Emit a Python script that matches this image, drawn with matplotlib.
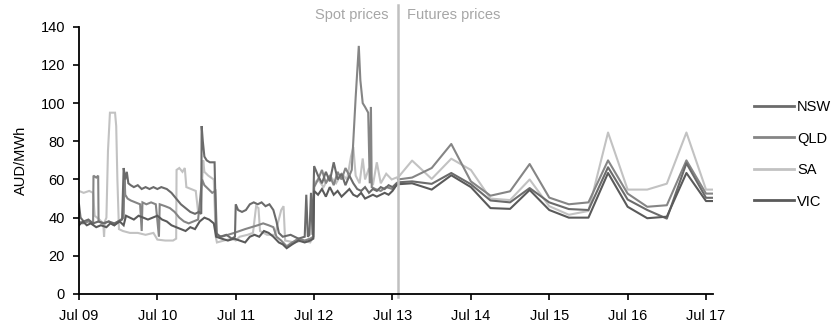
import matplotlib
matplotlib.use("Agg")
import matplotlib.pyplot as plt
import matplotlib.transforms as mtransforms

plt.rcParams['font.family'] = ['Liberation Sans', 'DejaVu Sans']

# ---- spot prices (decimal years, AUD/MWh) ----
nsw_spot_t = [2009.50, 2009.52, 2009.56, 2009.62, 2009.68, 2009.75, 2009.82, 2009.88, 2009.95, 2010.05,
              2010.07, 2010.09, 2010.11, 2010.13, 2010.16, 2010.20, 2010.25, 2010.30, 2010.35, 2010.40,
              2010.45, 2010.50, 2010.55, 2010.62, 2010.68, 2010.74, 2010.80, 2010.86, 2010.92, 2010.98,
              2011.03, 2011.06, 2011.065, 2011.08, 2011.10, 2011.13, 2011.17, 2011.23, 2011.25, 2011.30,
              2011.38, 2011.45, 2011.49, 2011.50, 2011.53, 2011.58, 2011.63, 2011.68, 2011.73, 2011.78,
              2011.83, 2011.88, 2011.93, 2011.98, 2012.02, 2012.05, 2012.10, 2012.20, 2012.30, 2012.38,
              2012.40, 2012.42, 2012.44, 2012.46, 2012.48, 2012.50, 2012.55, 2012.60, 2012.65, 2012.70,
              2012.75, 2012.80, 2012.85, 2012.90, 2012.95, 2013.00, 2013.05, 2013.10, 2013.15, 2013.20,
              2013.25, 2013.30, 2013.35, 2013.40, 2013.45, 2013.50, 2013.55]
nsw_spot_v = [47, 40, 38, 39, 37, 38, 37, 38, 37, 39,
              66, 60, 64, 58, 57, 56, 57, 55, 56, 55,
              56, 55, 56, 55, 53, 50, 47, 45, 43, 42,
              43, 42, 88, 80, 72, 70, 69, 69, 32, 30,
              31, 29, 30, 47, 44, 43, 44, 47, 48, 47,
              48, 46, 47, 44, 38, 32, 30, 31, 29, 30,
              52, 30, 31, 53, 31, 67, 62, 58, 64, 59,
              69, 60, 63, 57, 62, 58, 55, 54, 56, 53,
              55, 54, 56, 55, 57, 56, 58]

qld_spot_t = [2009.50, 2009.55, 2009.62, 2009.68, 2009.685, 2009.72, 2009.745, 2009.75, 2009.80, 2009.88,
              2009.95, 2010.00, 2010.07, 2010.08, 2010.09, 2010.12, 2010.16, 2010.22, 2010.28, 2010.30,
              2010.31, 2010.36, 2010.42, 2010.48, 2010.52, 2010.53, 2010.60, 2010.66, 2010.72, 2010.78,
              2010.84, 2010.90, 2010.96, 2011.02, 2011.07, 2011.10, 2011.15, 2011.20, 2011.24, 2011.26,
              2011.32, 2011.40, 2011.48, 2011.55, 2011.62, 2011.70, 2011.78, 2011.85, 2011.92, 2011.98,
              2012.02, 2012.08, 2012.15, 2012.22, 2012.30, 2012.38, 2012.45, 2012.49, 2012.50, 2012.55,
              2012.60, 2012.65, 2012.70, 2012.75, 2012.80, 2012.85, 2012.90, 2012.95, 2012.98, 2013.03,
              2013.07, 2013.09, 2013.12, 2013.15, 2013.19, 2013.21, 2013.225, 2013.235, 2013.28, 2013.35,
              2013.42, 2013.50, 2013.55]
qld_spot_v = [38, 37, 38, 37, 62, 61, 62, 38, 37, 38,
              36, 38, 40, 63, 52, 50, 49, 48, 47, 33,
              48, 47, 48, 47, 30, 47, 46, 45, 43, 40,
              38, 37, 38, 39, 60, 57, 55, 53, 54, 31,
              30, 31, 32, 33, 34, 35, 36, 37, 36, 35,
              30, 28, 25, 27, 29, 28, 29, 30, 56, 60,
              65, 58, 62, 57, 64, 60, 66, 62, 65, 103,
              130, 112, 100, 98, 95, 58, 98, 56, 55, 54,
              56, 55, 57]

sa_spot_t = [2009.50, 2009.56, 2009.63, 2009.68, 2009.70, 2009.76, 2009.81, 2009.82, 2009.83, 2009.85,
             2009.87, 2009.895, 2009.96, 2009.975, 2009.99, 2010.01, 2010.06, 2010.15, 2010.25, 2010.35,
             2010.45, 2010.50, 2010.60, 2010.70, 2010.74, 2010.745, 2010.78, 2010.82, 2010.85, 2010.87,
             2010.93, 2010.99, 2011.02, 2011.05, 2011.085, 2011.10, 2011.15, 2011.22, 2011.245, 2011.26,
             2011.35, 2011.45, 2011.50, 2011.55, 2011.65, 2011.72, 2011.76, 2011.79, 2011.81, 2011.90,
             2012.00, 2012.08, 2012.11, 2012.13, 2012.25, 2012.35, 2012.45, 2012.49, 2012.50, 2012.55,
             2012.62, 2012.70, 2012.78, 2012.85, 2012.92, 2012.97, 2013.00, 2013.03, 2013.08, 2013.12,
             2013.15, 2013.20, 2013.25, 2013.30, 2013.35, 2013.42, 2013.49, 2013.55]
sa_spot_v = [54, 53, 54, 53, 41, 39, 37, 30, 38, 40,
             75, 95, 95, 88, 60, 34, 33, 32, 32, 31,
             32, 28.5, 28, 28, 29, 65, 66, 64, 66, 56,
             55, 54, 43, 42, 70, 64, 62, 60, 30, 27,
             28, 29, 28, 30, 31, 32, 46, 45, 33, 31,
             31, 44, 46, 28, 27, 28, 27, 30, 58, 60,
             56, 62, 58, 63, 60, 72, 77, 62, 58, 71,
             60, 66, 57, 69, 58, 63, 60, 61]

vic_spot_t = [2009.50, 2009.55, 2009.60, 2009.65, 2009.72, 2009.78, 2009.85, 2009.90, 2009.95, 2010.02,
              2010.07, 2010.10, 2010.15, 2010.20, 2010.26, 2010.32, 2010.38, 2010.44, 2010.50, 2010.56,
              2010.62, 2010.68, 2010.74, 2010.80, 2010.86, 2010.92, 2010.98, 2011.04, 2011.10, 2011.16,
              2011.22, 2011.25, 2011.32, 2011.40, 2011.48, 2011.55, 2011.62, 2011.68, 2011.74, 2011.80,
              2011.86, 2011.92, 2011.98, 2012.05, 2012.10, 2012.15, 2012.22, 2012.30, 2012.38, 2012.45,
              2012.49, 2012.50, 2012.55, 2012.60, 2012.65, 2012.70, 2012.75, 2012.80, 2012.85, 2012.90,
              2012.95, 2013.00, 2013.05, 2013.10, 2013.15, 2013.20, 2013.25, 2013.30, 2013.35, 2013.40,
              2013.45, 2013.50, 2013.55]
vic_spot_v = [36, 38, 36, 37, 35, 36, 35, 37, 36, 38,
              36, 41, 40, 39, 41, 40, 39, 40, 41, 39,
              38, 36, 35, 34, 33, 35, 34, 38, 40, 39,
              37, 30, 29, 28, 29, 28, 27, 30, 31, 30,
              33, 32, 30, 27, 26, 24, 26, 28, 27, 28,
              29, 54, 52, 55, 51, 56, 52, 54, 51, 53,
              55, 52, 51, 53, 50, 51, 52, 51, 52, 53,
              52, 54, 57]

# ---- futures prices (quarterly contracts) ----
fut_t = [2013.57, 2013.75, 2014.00, 2014.25, 2014.50, 2014.75, 2015.00, 2015.25, 2015.50,
         2015.75, 2016.00, 2016.25, 2016.50, 2016.75, 2017.00, 2017.25, 2017.50, 2017.60]
nsw_fut = [58.5, 59, 57.7, 63.4, 57.5, 49, 48, 55.5, 48, 44.5, 44, 66.4, 49.5, 44, 39.5, 68.5, 50.4, 50.4]
qld_fut = [60, 61, 66, 78.6, 59, 51.5, 53.8, 68.1, 50.5, 47, 48, 70, 52.6, 45.7, 46.5, 70, 52.6, 52.6]
sa_fut = [61, 69.9, 60.3, 70.9, 65, 50, 49.2, 60, 46, 41.5, 43.5, 84.6, 54.7, 54.7, 57.8, 84.6, 54.7, 54.7]
vic_fut = [57.5, 58, 54.7, 62.2, 56, 45, 44.6, 54.5, 44, 40, 40, 63.4, 45.7, 39.7, 40.5, 63.4, 48.7, 48.7]

states = ['NSW', 'QLD', 'SA', 'VIC']
colors = {'NSW': '#6b6b6b', 'QLD': '#858585', 'SA': '#c2c2c2', 'VIC': '#5a5a5a'}

year_ticks = [2009.5 + k for k in range(9)]
year_labels = ['Jul 09', 'Jul 10', 'Jul 11', 'Jul 12', 'Jul 13', 'Jul 14', 'Jul 15', 'Jul 16', 'Jul 17']
y_ticks = [0, 20, 40, 60, 80, 100, 120, 140]
split_t = 2013.57

spot = {
    'NSW': (nsw_spot_t, nsw_spot_v),
    'QLD': (qld_spot_t, qld_spot_v),
    'SA': (sa_spot_t, sa_spot_v),
    'VIC': (vic_spot_t, vic_spot_v),
}
futures = {'NSW': nsw_fut, 'QLD': qld_fut, 'SA': sa_fut, 'VIC': vic_fut}

fs = 10.5

fig = plt.figure(figsize=(8.34, 3.27), dpi=100)
ax = fig.add_axes([0.0947, 0.101, 0.7603, 0.817])

lw = 1.5
draw_order = ['SA', 'QLD', 'NSW', 'VIC']
for s in draw_order:
    t, v = spot[s]
    ax.plot(t, v, color=colors[s], lw=lw, solid_joinstyle='miter')
    ax.plot(fut_t, futures[s], color=colors[s], lw=lw)

# legend handles in state order
handles = [plt.Line2D([], [], color=colors[s], lw=2) for s in states]
fig.legend(handles, states, loc='upper left', bbox_to_anchor=(0.897, 0.712),
           frameon=False, fontsize=fs, handlelength=2.75, handletextpad=0.2,
           labelspacing=1.2, borderaxespad=0)

ax.set_xlim(2009.5, 2017.59)
ax.set_ylim(0, 140)
ax.set_xticks(year_ticks)
ax.set_xticklabels(year_labels)
ax.set_yticks(y_ticks)
ax.tick_params(axis='both', labelsize=fs, direction='out', length=4, width=1.2, colors='black')
ax.tick_params(axis='y', pad=6)
ax.tick_params(axis='x', pad=7)
ax.set_ylabel('AUD/MWh', fontsize=fs, labelpad=9)
for side in ['top', 'right']:
    ax.spines[side].set_visible(False)
for side in ['left', 'bottom']:
    ax.spines[side].set_linewidth(1.3)
    ax.spines[side].set_color('black')

# divider between spot and futures
trans = mtransforms.blended_transform_factory(ax.transData, ax.transAxes)
ax.plot([split_t, split_t], [-0.012, 1.08], transform=trans, color='#c0c0c0', lw=1.8, clip_on=False)
ax.text(split_t - 0.12, 1.043, 'Spot prices', transform=trans, ha='right', va='center',
        color='#a6a6a6', fontsize=fs)
ax.text(split_t + 0.12, 1.043, 'Futures prices', transform=trans, ha='left', va='center',
        color='#a6a6a6', fontsize=fs)

fig.savefig('out.png', dpi=100)
